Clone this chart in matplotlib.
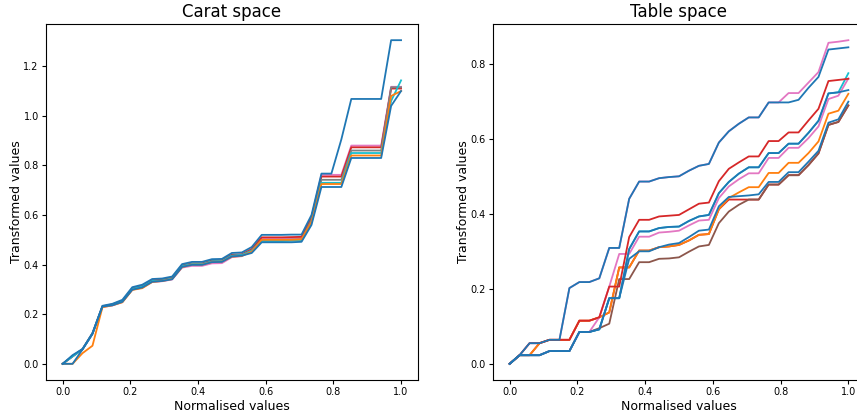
import numpy as np
import matplotlib
matplotlib.use("Agg")
import matplotlib.pyplot as plt

# ---------------- data ----------------
x_norm = np.linspace(0.0, 1.0, 35)

# Carat space series
carat_blue_top = [0, 0.035, 0.060, 0.124, 0.234, 0.242, 0.258, 0.309, 0.319, 0.342, 0.344, 0.352,
                  0.402, 0.411, 0.411, 0.422, 0.423, 0.447, 0.449, 0.471, 0.520, 0.520, 0.520, 0.521,
                  0.521, 0.600, 0.767, 0.767, 0.905, 1.068, 1.068, 1.068, 1.068, 1.305, 1.305]
carat_blue_low = [0, 0.0, 0.058, 0.120, 0.231, 0.236, 0.250, 0.299, 0.308, 0.331, 0.334, 0.341,
                  0.391, 0.399, 0.399, 0.410, 0.411, 0.433, 0.436, 0.447, 0.490, 0.490, 0.490, 0.490,
                  0.492, 0.560, 0.713, 0.713, 0.713, 0.830, 0.830, 0.830, 0.830, 1.040, 1.100]
carat_orange = [0, 0.0, 0.043, 0.073, 0.228, 0.236, 0.248, 0.298, 0.305, 0.330, 0.334, 0.342,
                0.390, 0.400, 0.400, 0.410, 0.412, 0.432, 0.435, 0.452, 0.500, 0.500, 0.500, 0.500,
                0.502, 0.572, 0.725, 0.725, 0.725, 0.840, 0.840, 0.840, 0.840, 1.080, 1.100]
carat_red = [0, 0.030, 0.059, 0.123, 0.232, 0.240, 0.254, 0.304, 0.314, 0.337, 0.339, 0.347,
             0.397, 0.405, 0.405, 0.417, 0.418, 0.440, 0.442, 0.463, 0.510, 0.510, 0.510, 0.511,
             0.512, 0.590, 0.755, 0.755, 0.755, 0.873, 0.873, 0.873, 0.873, 1.110, 1.110]
carat_pink = [0, 0.030, 0.059, 0.122, 0.229, 0.235, 0.249, 0.299, 0.307, 0.330, 0.333, 0.340,
              0.388, 0.395, 0.395, 0.405, 0.406, 0.430, 0.434, 0.458, 0.505, 0.505, 0.505, 0.506,
              0.507, 0.590, 0.762, 0.762, 0.762, 0.880, 0.880, 0.880, 0.880, 1.117, 1.117]
carat_grey = [0, 0.030, 0.059, 0.122, 0.231, 0.238, 0.252, 0.302, 0.311, 0.334, 0.336, 0.344,
              0.394, 0.402, 0.402, 0.413, 0.414, 0.436, 0.439, 0.458, 0.500, 0.500, 0.500, 0.501,
              0.502, 0.580, 0.742, 0.742, 0.742, 0.860, 0.860, 0.860, 0.860, 1.115, 1.115]
carat_cyan = [0, 0.030, 0.059, 0.122, 0.231, 0.238, 0.252, 0.302, 0.311, 0.334, 0.336, 0.344,
              0.394, 0.402, 0.402, 0.413, 0.414, 0.436, 0.439, 0.455, 0.495, 0.495, 0.495, 0.496,
              0.497, 0.570, 0.730, 0.730, 0.730, 0.850, 0.850, 0.850, 0.850, 1.060, 1.143]

# Table space series
table_blue_top = [0, 0.023, 0.055, 0.055, 0.064, 0.064, 0.202, 0.218, 0.218, 0.228, 0.309, 0.309,
                  0.440, 0.486, 0.486, 0.495, 0.498, 0.500, 0.515, 0.528, 0.533, 0.590, 0.620, 0.640,
                  0.657, 0.657, 0.697, 0.697, 0.697, 0.704, 0.736, 0.765, 0.838, 0.841, 0.844]
table_pink_top = [0, 0.023, 0.055, 0.055, 0.064, 0.064, 0.202, 0.218, 0.218, 0.228, 0.309, 0.309,
                  0.440, 0.486, 0.486, 0.495, 0.498, 0.500, 0.515, 0.528, 0.533, 0.590, 0.620, 0.640,
                  0.657, 0.657, 0.697, 0.697, 0.722, 0.722, 0.750, 0.778, 0.856, 0.859, 0.863]
table_red = [0, 0.023, 0.055, 0.055, 0.064, 0.064, 0.064, 0.115, 0.115, 0.124, 0.206, 0.206,
             0.338, 0.384, 0.384, 0.393, 0.395, 0.397, 0.412, 0.427, 0.430, 0.487, 0.520, 0.537,
             0.553, 0.553, 0.594, 0.594, 0.617, 0.617, 0.649, 0.680, 0.754, 0.757, 0.760]
table_blue_mid = [0, 0.023, 0.023, 0.023, 0.034, 0.034, 0.034, 0.085, 0.085, 0.092, 0.175, 0.175,
                  0.306, 0.353, 0.353, 0.362, 0.365, 0.366, 0.381, 0.393, 0.397, 0.455, 0.485, 0.507,
                  0.524, 0.524, 0.562, 0.562, 0.587, 0.587, 0.616, 0.648, 0.721, 0.724, 0.730]
table_cyan = [0, 0.023, 0.023, 0.023, 0.034, 0.034, 0.034, 0.085, 0.085, 0.092, 0.175, 0.175,
              0.306, 0.353, 0.353, 0.362, 0.365, 0.366, 0.381, 0.393, 0.397, 0.455, 0.485, 0.507,
              0.524, 0.524, 0.562, 0.562, 0.587, 0.587, 0.616, 0.648, 0.721, 0.724, 0.775]
table_pink = [0, 0.023, 0.023, 0.023, 0.034, 0.034, 0.034, 0.085, 0.085, 0.124, 0.206, 0.293,
              0.293, 0.339, 0.339, 0.350, 0.352, 0.355, 0.369, 0.382, 0.384, 0.442, 0.473, 0.492,
              0.508, 0.508, 0.549, 0.549, 0.576, 0.576, 0.602, 0.633, 0.706, 0.715, 0.761]
table_orange = [0, 0.023, 0.023, 0.055, 0.064, 0.064, 0.064, 0.115, 0.115, 0.124, 0.137, 0.257,
                0.257, 0.302, 0.302, 0.311, 0.313, 0.317, 0.329, 0.344, 0.346, 0.412, 0.442, 0.457,
                0.471, 0.471, 0.509, 0.509, 0.536, 0.536, 0.562, 0.593, 0.667, 0.675, 0.720]
table_blue_low = [0, 0.023, 0.023, 0.023, 0.034, 0.034, 0.034, 0.085, 0.085, 0.092, 0.175, 0.175,
                  0.280, 0.300, 0.300, 0.311, 0.318, 0.322, 0.338, 0.355, 0.358, 0.420, 0.445, 0.447,
                  0.449, 0.452, 0.485, 0.485, 0.511, 0.511, 0.539, 0.568, 0.643, 0.652, 0.699]
table_brown = [0, 0.023, 0.023, 0.023, 0.034, 0.034, 0.034, 0.085, 0.085, 0.095, 0.107, 0.226,
               0.226, 0.271, 0.271, 0.280, 0.281, 0.284, 0.299, 0.313, 0.317, 0.375, 0.406, 0.424,
               0.438, 0.438, 0.478, 0.478, 0.503, 0.503, 0.530, 0.561, 0.637, 0.645, 0.689]
table_red_low = [0, 0.023, 0.023, 0.055, 0.064, 0.064, 0.064, 0.115, 0.115, 0.124, 0.137, 0.257,
                 0.257, 0.302, 0.302, 0.311, 0.313, 0.317, 0.329, 0.344, 0.346, 0.412, 0.438, 0.438,
                 0.438, 0.438, 0.478, 0.478, 0.503, 0.503, 0.530, 0.561, 0.637, 0.645, 0.689]

carat_series = [carat_pink, carat_red, carat_grey, carat_cyan, carat_orange, carat_blue_low, carat_blue_top]
carat_colors = ["tab:pink", "tab:red", "tab:gray", "tab:cyan", "tab:orange", "tab:blue", "tab:blue"]

table_series = [table_pink_top, table_cyan, table_red_low, table_orange, table_brown, table_pink,
                table_red, table_blue_low, table_blue_mid, table_blue_top]
table_colors = ["tab:pink", "tab:cyan", "tab:red", "tab:orange", "tab:brown", "tab:pink",
                "tab:red", "tab:blue", "tab:blue", "tab:blue"]

# ---------------- figure ----------------
W, H = 857, 413
fig = plt.figure(figsize=(W / 100, H / 100), dpi=100)

ax1 = fig.add_axes([45.7 / W, 33 / H, (418 - 45.7) / W, 356 / H])
ax2 = fig.add_axes([492.7 / W, 33 / H, (865.3 - 492.7) / W, 356 / H])

for ax, series, colors, title in [(ax1, carat_series, carat_colors, "Carat space"),
                                  (ax2, table_series, table_colors, "Table space")]:
    for ys, c in zip(series, colors):
        ax.plot(x_norm, ys, color=c, lw=1.3)
    ax.set_title(title, fontsize=12, pad=5)
    ax.set_xlabel("Normalised values", fontsize=9, labelpad=2)
    ax.set_ylabel("Transformed values", fontsize=9, labelpad=0.5)
    ax.tick_params(labelsize=7, length=3, pad=2)
    ax.set_xticks([0.0, 0.2, 0.4, 0.6, 0.8, 1.0])

ax1.set_yticks([0.0, 0.2, 0.4, 0.6, 0.8, 1.0, 1.2])
ax2.set_yticks([0.0, 0.2, 0.4, 0.6, 0.8])

fig.savefig("out.png", dpi=100)
